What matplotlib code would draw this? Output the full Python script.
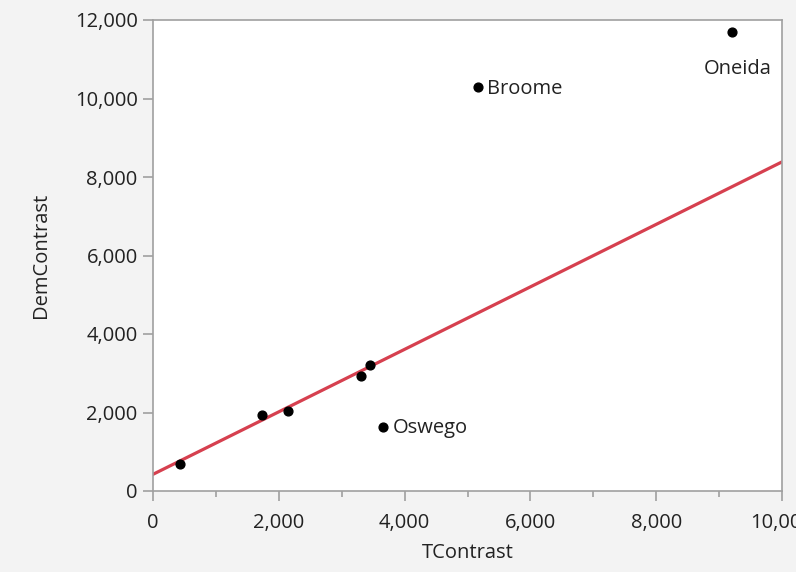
import matplotlib
matplotlib.use("Agg")
import matplotlib.pyplot as plt
from matplotlib.ticker import FuncFormatter, MultipleLocator
import numpy as np

plt.rcParams['font.family'] = ['Open Sans', 'DejaVu Sans']

t_contrast = [430, 1740, 2150, 3310, 3455, 3650, 5160, 9200]
dem_contrast = [690, 1940, 2040, 2930, 3220, 1640, 10290, 11690]
point_labels = ["", "", "", "", "", "Oswego", "Broome", "Oneida"]
fit_intercept = 425
fit_slope = 0.796

x_ticks = [0, 2000, 4000, 6000, 8000, 10000]
y_ticks = [0, 2000, 4000, 6000, 8000, 10000, 12000]

FS = 14.5
TXT = '#222222'

fig = plt.figure(figsize=(7.96, 5.72), dpi=100, facecolor='#f3f3f3')
ax = fig.add_axes([153/796, 1-491/572, (782-153)/796, (491-20)/572])
ax.set_facecolor('white')

xs = np.array([0, 10000])
ax.plot(xs, fit_intercept + fit_slope*xs, color='#d6404f', lw=2.3, zorder=2)
ax.scatter(t_contrast, dem_contrast, s=40, color='black', zorder=3)

for x, y, lab in zip(t_contrast, dem_contrast, point_labels):
    if lab == "Oneida":
        ax.annotate(lab, (x, y), xytext=(4, -19), textcoords='offset points',
                    ha='center', va='top', fontsize=FS, color=TXT)
    elif lab:
        ax.annotate(lab, (x, y), xytext=(7, -1), textcoords='offset points',
                    ha='left', va='center', fontsize=FS, color=TXT)

ax.set_xlim(0, 10000)
ax.set_ylim(0, 12000)
ax.set_xticks(x_ticks)
ax.set_yticks(y_ticks)
ax.xaxis.set_minor_locator(MultipleLocator(1000))
fmt = FuncFormatter(lambda v, p: f"{int(v):,}")
ax.xaxis.set_major_formatter(fmt)
ax.yaxis.set_major_formatter(fmt)
for s in ax.spines.values():
    s.set_color('#a0a0a0')
    s.set_linewidth(1.2)
ax.tick_params(axis='both', which='major', length=7, width=1.2, color='#a0a0a0',
               labelsize=FS, labelcolor=TXT, pad=4)
ax.tick_params(axis='x', which='major', pad=9)
ax.tick_params(axis='x', which='minor', length=4, width=1.2, color='#a0a0a0')
ax.set_xlabel('TContrast', fontsize=FS, color=TXT, labelpad=7)
ax.set_ylabel('DemContrast', fontsize=FS, color=TXT, labelpad=17)

fig.savefig('out.png', dpi=100, facecolor=fig.get_facecolor())
